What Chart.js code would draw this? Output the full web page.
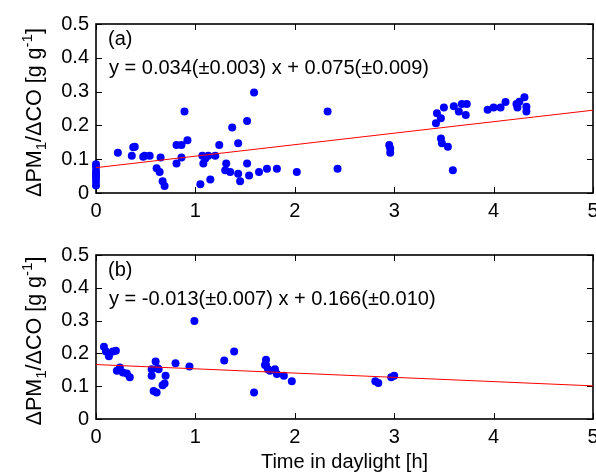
<!DOCTYPE html>
<html>
<head>
<meta charset="utf-8">
<script src="https://cdn.jsdelivr.net/npm/chart.js@4.4.1/dist/chart.umd.min.js"></script>
<style>
  html, body { margin: 0; padding: 0; background: #fff; overflow: hidden; width: 596px; height: 473px; }
  canvas { position: absolute; left: 0; }
  #chartA { top: 0; }
  #chartB { top: 236px; }
</style>
</head>
<body>
<canvas id="chartA" width="640" height="236"></canvas>
<canvas id="chartB" width="640" height="237"></canvas>
<script>
// ---- data ----
const xTicks = [0, 1, 2, 3, 4, 5];
const yTicks = [0, 0.1, 0.2, 0.3, 0.4, 0.5];
const xTickLabels = ["0", "1", "2", "3", "4", "5"];
const yTickLabels = ["0", "0.1", "0.2", "0.3", "0.4", "0.5"];

// (a) all points
const aX = [0, 0, 0, 0, 0, 0, 0,
  0.22, 0.36, 0.375, 0.39, 0.475, 0.49, 0.54, 0.61, 0.64, 0.65, 0.67, 0.69,
  0.81, 0.81, 0.86, 0.86, 0.89, 0.92, 1.05, 1.07, 1.08, 1.10, 1.13, 1.15, 1.20,
  1.24, 1.30, 1.31, 1.35, 1.37, 1.43, 1.43, 1.45, 1.52, 1.52, 1.54, 1.59, 1.64,
  1.72, 1.82, 2.02, 2.33, 2.43,
  2.95, 2.96, 2.96, 3.42, 3.43, 3.47, 3.50, 3.47, 3.48, 3.54, 3.59, 3.60, 3.65,
  3.68, 3.72, 3.73, 3.94, 4.00, 4.07, 4.12, 4.23, 4.24, 4.26, 4.31, 4.33, 4.33];
const aY = [0.085, 0.078, 0.065, 0.055, 0.045, 0.035, 0.022,
  0.119, 0.110, 0.135, 0.137, 0.107, 0.110, 0.110, 0.073, 0.062, 0.105, 0.035, 0.021,
  0.087, 0.142, 0.142, 0.105, 0.241, 0.156, 0.026, 0.110, 0.087, 0.102, 0.110, 0.040, 0.110,
  0.142, 0.067, 0.087, 0.062, 0.194, 0.057, 0.147, 0.035, 0.213, 0.087, 0.052, 0.297, 0.062,
  0.072, 0.072, 0.062, 0.241, 0.072,
  0.142, 0.132, 0.119, 0.206, 0.236, 0.221, 0.253, 0.161, 0.147, 0.137, 0.067, 0.257, 0.241,
  0.263, 0.231, 0.263, 0.246, 0.253, 0.253, 0.269, 0.263, 0.253, 0.270, 0.283, 0.255, 0.241];

// (b) all points
const bX = [0.08, 0.10, 0.13, 0.17, 0.20, 0.21, 0.24, 0.27, 0.31, 0.34,
  0.56, 0.56, 0.58, 0.61, 0.60, 0.62, 0.63, 0.67, 0.69, 0.70, 0.80, 0.94, 0.99,
  1.29, 1.39, 1.59, 1.71, 1.71, 1.70, 1.73, 1.75, 1.80, 1.82, 1.89, 1.97,
  2.81, 2.84, 2.97, 3.00];
const bY = [0.220, 0.206, 0.191, 0.206, 0.208, 0.147, 0.157, 0.142, 0.139, 0.127,
  0.152, 0.132, 0.085, 0.081, 0.175, 0.155, 0.152, 0.103, 0.108, 0.132, 0.170, 0.160, 0.299,
  0.178, 0.206, 0.081, 0.181, 0.165, 0.165, 0.152, 0.147, 0.152, 0.137, 0.132, 0.115,
  0.115, 0.110, 0.127, 0.132];

// fitted lines, end points
const fitX = [0, 5];
const aFitY = [0.075, 0.245];
const bFitY = [0.166, 0.101];

const FONT = "'Liberation Sans', Arial, Helvetica, sans-serif";
const FS = 20;

// frame + inward ticks (drawn under the markers)
const framePlugin = {
  id: "frame",
  beforeDatasetsDraw(chart) {
    const { ctx, chartArea: a, scales } = chart;
    ctx.save();
    ctx.strokeStyle = "#000";
    ctx.lineWidth = 1;
    ctx.beginPath();
    xTicks.forEach((v) => {
      const px = Math.round(scales.x.getPixelForValue(v)) + 0.5;
      ctx.moveTo(px, a.bottom); ctx.lineTo(px, a.bottom - 6);
      ctx.moveTo(px, a.top); ctx.lineTo(px, a.top + 6);
    });
    yTicks.forEach((v) => {
      const py = Math.round(scales.y.getPixelForValue(v)) + 0.5;
      ctx.moveTo(a.left, py); ctx.lineTo(a.left + 6, py);
      ctx.moveTo(a.right, py); ctx.lineTo(a.right - 6, py);
    });
    ctx.stroke();
    ctx.lineWidth = 1.6;
    ctx.strokeRect(a.left, a.top, a.right - a.left, a.bottom - a.top);
    ctx.restore();
  },
};

// y title with sub/superscript + panel notes
function drawRich(ctx, parts, size) {
  let w = 0;
  parts.forEach((p) => {
    ctx.font = `${size * (p.s || 1)}px ${FONT}`;
    p.w = ctx.measureText(p.t).width;
    w += p.w;
  });
  let x = -w / 2;
  parts.forEach((p) => {
    ctx.font = `${size * (p.s || 1)}px ${FONT}`;
    ctx.fillText(p.t, x, (p.dy || 0) * size);
    x += p.w;
  });
}

const textPlugin = {
  id: "notes",
  afterDraw(chart, args, opts) {
    const { ctx, chartArea: a } = chart;
    ctx.save();
    ctx.fillStyle = "#000";
    ctx.textBaseline = "alphabetic";
    ctx.textAlign = "left";
    ctx.font = `${FS}px ${FONT}`;
    ctx.fillText(opts.tag, a.left + 12, a.top + 21);
    ctx.fillText(opts.eq, a.left + 13, a.top + 50);
    ctx.translate(41, (a.top + a.bottom) / 2 + 4);
    ctx.rotate(-Math.PI / 2);
    drawRich(ctx, [
      { t: "\u0394PM" },
      { t: "1", s: 0.7, dy: 0.22 },
      { t: "/\u0394CO [g g" },
      { t: "-1", s: 0.7, dy: -0.42 },
      { t: "]" },
    ], 21.5);
    ctx.restore();
  },
};

function makeChart(id, xs, ys, fitY, tag, eq, padTop, xAxisH, withTitle) {
  const pts = xs.map((x, i) => ({ x, y: ys[i] }));
  const line = fitX.map((x, i) => ({ x, y: fitY[i] }));
  return new Chart(document.getElementById(id), {
    type: "scatter",
    data: {
      datasets: [
        {
          type: "line",
          data: line,
          borderColor: "#ff0000",
          borderWidth: 1,
          pointRadius: 0,
          fill: false,
          order: 0,
        },
        {
          data: pts,
          backgroundColor: "#0000ff",
          borderColor: "#0000ff",
          pointRadius: 4,
          borderWidth: 0,
          clip: false,
          order: 1,
        },
      ],
    },
    options: {
      responsive: false,
      animation: false,
      events: [],
      layout: { padding: { top: padTop, right: 47, left: 0, bottom: 0 } },
      plugins: {
        legend: { display: false },
        tooltip: { enabled: false },
        notes: { tag, eq },
      },
      scales: {
        x: {
          type: "linear",
          min: 0,
          max: 5,
          afterBuildTicks: (s) => { s.ticks = xTicks.map((v) => ({ value: v })); },
          afterFit: (s) => { s.height = xAxisH; },
          ticks: {
            callback: (v) => xTickLabels[xTicks.indexOf(v)],
            font: { family: FONT, size: FS },
            color: "#000",
            padding: 6,
            maxRotation: 0,
            autoSkip: false,
          },
          grid: { display: false, drawTicks: false },
          border: { display: false },
          title: {
            display: withTitle,
            text: "Time in daylight [h]",
            font: { family: FONT, size: FS },
            color: "#000",
            padding: { top: 0, bottom: -1 },
          },
        },
        y: {
          type: "linear",
          min: 0,
          max: 0.5,
          afterBuildTicks: (s) => { s.ticks = yTicks.map((v) => ({ value: v })); },
          afterFit: (s) => { s.width = 96; },
          ticks: {
            callback: (v) => yTickLabels[yTicks.findIndex((t) => Math.abs(t - v) < 1e-9)],
            font: { family: FONT, size: FS },
            color: "#000",
            padding: 7,
          },
          grid: { display: false, drawTicks: false },
          border: { display: false },
        },
      },
    },
    plugins: [framePlugin, textPlugin],
  });
}

makeChart("chartA", aX, aY, aFitY, "(a)",
  "y = 0.034(\u00b10.003) x + 0.075(\u00b10.009)", 24, 43, false);
makeChart("chartB", bX, bY, bFitY, "(b)",
  "y = -0.013(\u00b10.007) x + 0.166(\u00b10.010)", 13, 54, true);
</script>
</body>
</html>
